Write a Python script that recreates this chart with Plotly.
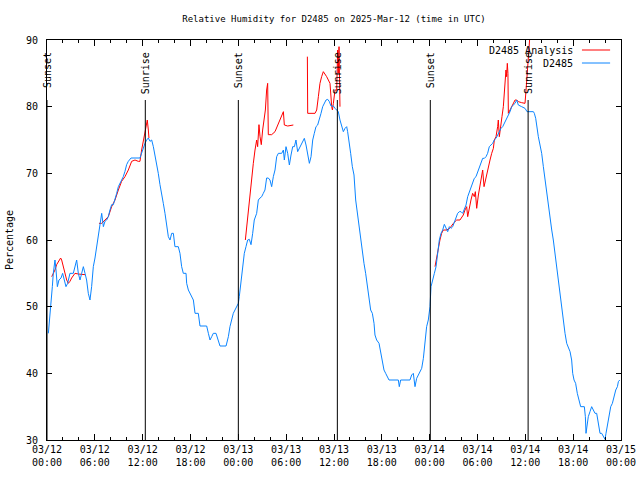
import pandas as pd
import plotly.graph_objects as go

BASE = pd.Timestamp("2025-03-12 00:00")

# D2485 observations: hours since 2025-03-12 00:00 UTC, relative humidity (%)
obs_hours = [0.17,0.38,0.5,0.67,0.79,1.0,1.13,1.3,1.5,1.76,1.96,2.17,2.38,2.59,2.88,3.3,3.51,3.72,3.93,4.14,
    4.35,4.56,4.77,4.97,5.18,5.39,5.6,5.81,6.02,6.23,6.44,6.65,6.86,7.07,7.27,7.48,7.69,7.9,8.11,8.32,
    8.53,8.74,8.95,9.36,9.57,9.78,9.99,10.2,10.54,11.66,11.87,12.08,12.29,12.5,12.71,12.92,13.13,13.34,13.55,13.75,
    13.96,14.17,14.38,14.59,14.8,15.01,15.22,15.43,15.64,15.85,16.05,16.47,16.68,16.89,17.1,17.44,17.52,17.73,17.94,18.36,
    18.57,18.98,19.19,20.03,20.24,20.45,20.66,20.86,21.2,21.49,21.7,22.46,22.75,22.95,23.16,23.37,23.58,23.79,24.0,24.12,
    24.33,24.54,24.75,24.96,25.17,25.38,25.59,25.8,26.0,26.3,26.51,26.72,26.93,27.13,27.34,27.55,27.76,27.97,28.18,28.39,
    28.6,28.81,29.02,29.44,29.65,29.77,29.98,30.19,30.4,30.61,30.82,31.03,31.23,31.44,31.65,31.86,32.15,32.28,32.49,32.7,
    32.91,33.12,33.33,33.53,33.74,33.95,34.16,34.37,34.58,34.79,35.0,35.21,35.42,35.62,35.92,36.13,36.34,36.54,36.75,36.96,
    37.17,37.38,37.59,37.71,37.88,38.09,38.3,38.51,38.72,38.93,39.14,39.34,39.55,39.76,39.97,40.18,40.39,40.6,40.81,41.02,
    41.14,41.35,41.65,41.86,42.06,42.27,42.48,42.69,42.9,43.4,44.07,44.19,44.36,45.53,45.74,45.95,46.16,46.37,46.58,46.79,
    47.0,47.21,47.41,47.62,47.83,48.04,48.17,48.38,48.59,48.8,49.0,49.21,49.42,49.63,49.84,50.05,50.26,50.47,50.68,50.89,
    51.09,51.3,51.51,51.72,51.93,52.14,52.35,52.56,52.77,52.98,53.18,53.39,53.6,53.81,54.02,54.23,54.44,54.65,54.86,55.07,
    55.27,55.48,55.69,55.9,56.11,56.32,56.53,56.74,56.95,57.16,57.36,57.57,57.82,58.08,58.29,58.5,58.71,58.92,59.12,59.54,
    59.96,60.09,60.21,61.01,61.13,61.3,61.42,61.63,61.84,62.05,62.26,62.47,62.68,62.89,63.1,63.31,63.51,63.72,63.93,64.14,
    64.35,64.56,64.77,64.98,65.19,65.4,65.61,65.81,65.94,66.11,66.31,66.52,66.73,66.94,67.4,67.53,67.61,67.74,67.9,68.11,
    68.32,68.53,68.74,68.95,69.16,69.37,69.58,69.79,69.99,70.12,70.29,70.5,70.71,70.92,71.13,71.34,71.55,71.67,71.84]
obs_values = [46,48.5,50,53,55,57,55.5,53,54,54.3,55,54,53,53.5,55,55,56,57,55,54,
    55,56,55,54,52,51,53,56,57.3,59,61,62,64,62,62.8,63,63.5,64.5,65.3,65.3,
    66,67,68,69,69.5,70.3,71.3,71.8,72.3,72.3,73,74,74.5,75,75.3,74.8,75,74,72.8,71.5,
    70,68.3,66.5,65.5,64,62,60.5,60,61,61,59,59,58,56,55,55,53.5,52.5,52,51,
    49,49,47.1,47.1,46,45,45.5,46,46,45,44.1,44.1,45.5,47,48,49,49.5,50,50.5,51.5,
    54,56.5,58,59,60,60.1,59.3,61,63,64,66,66.3,66.5,67,67.5,69.3,69.3,69,68,69.5,
    70.5,72.5,73,73,73.5,72,74,73,71.25,72.75,74,74,75,73.25,73.75,74.25,75,75.25,74.25,73,
    71.5,72.5,75,76,77,77.25,78,79,80,80.5,81,81.1,80.75,80.1,80.1,79.75,79.5,79.25,78,77,
    76.25,76.75,77,76.25,75,73,71,69.75,66,64,61.5,60,58,56.5,55,53,51.5,49.5,49,47.5,
    45.75,45,44.5,43.25,42,40.5,40,39.5,39,39,39,38,39,39,39.75,40,38,39.25,39.75,40.25,
    40.75,42.25,45,47,48,50,53,54.25,55,56,58,60,61,61.5,62.35,61.75,61.25,62,61.75,62,
    62.75,63.5,64,64.25,64.25,64,64.75,65.25,66.5,67.25,68,68.75,69.25,69.5,70.25,70.75,71.5,72.25,72.25,72.5,
    73,74,74.25,74.5,75,75.25,75.75,76.25,76.75,77,77.5,78,78.5,79.25,80,80.25,80.5,81,80.25,80,
    79.75,79.5,79.25,79.25,79,78.25,77,75.5,74.25,73,71,69,67,65,63,61.5,60,58,56,53.5,
    51.5,49.5,47.5,46,44.5,43.75,43.25,42,40,39,38.5,37,36,35,35,33.5,31,32.5,33.5,34.25,
    35,34.5,34,34,32.5,31,31,30.5,30.1,31,32,33.5,35,35.5,36.5,37.5,38,38.75,39]

# D2485 Analysis (None = gap)
ana_hours = [0.59,0.79,1.0,1.21,1.42,1.71,1.84,2.05,2.26,2.47,2.68,2.88,3.09,3.3,3.51,3.93,4.35,4.77,None,
    6.52,6.86,7.27,7.69,8.11,8.53,8.95,9.36,9.78,10.2,10.62,11.04,11.45,11.66,11.87,12.08,12.29,12.42,12.58,12.71,12.79,None,
    24.88,25.05,25.25,25.46,25.67,25.88,26.09,26.3,26.42,26.59,26.72,26.88,27.05,27.22,27.39,27.55,27.68,27.76,28.18,28.6,
    29.02,29.44,29.65,29.77,30.19,30.9,None,
    32.66,32.7,33.62,33.83,34.04,34.24,34.45,34.66,35.08,35.5,35.71,35.8,35.92,36.13,36.34,36.46,36.54,36.63,36.75,None,
    48.67,48.88,49.09,49.29,49.5,49.71,50.13,50.55,50.97,51.39,51.8,52.01,52.22,52.43,52.64,52.77,52.98,53.18,53.39,53.6,
    53.73,53.9,54.11,54.32,54.53,54.65,54.82,54.99,55.15,55.36,55.57,55.78,55.99,56.11,56.32,56.53,56.61,56.74,56.91,57.07,
    57.24,57.45,57.57,57.65,57.74,57.82,57.87,58.08,58.29,58.5,58.71,58.92,59.12,59.54,59.96,60.09,60.25,60.38,60.5,60.59]
ana_values = [54.5,55,55.5,56.3,56.8,57.3,57,56,55,54,53.5,53.8,54.3,54.6,55,54.9,54.8,54.8,None,
    62.5,62.5,63,63.5,65,66,67.5,68.8,69.5,70.5,71.8,72,71.8,71.8,73.5,75,76,77.5,78,76.5,75.3,None,
    60,62,64.5,67.5,70,71.5,73.5,75,74,77.3,75.5,74.3,76.5,78,79.5,82.5,83.5,75.8,75.8,76.25,
    77.5,78.5,79.25,77.25,77.1,77.25,None,
    87.5,79,79,79.5,81.5,83.5,84.5,85.25,84.5,83.5,80,79.5,80.5,82.5,82.5,88.5,85,89,80,None,
    56,57.5,58.5,60,61,61.5,61.5,61.8,62.5,63,63,63.3,63.75,64.5,65,63.5,65,66,67,66.5,
    67.25,64.75,66.75,68.5,69.5,70.5,68,69,69.5,71,72,73,73.75,75,75.5,77,78,75.5,77.5,78.5,
    80,83,85.5,84.5,86.5,85,79,79.5,80,80.5,81,81,80.75,80.6,80.5,82.5,85,87,89.5,91]

# Sunrise / sunset markers (hours since 2025-03-12 00:00 UTC)
sun_labels = ["Sunset", "Sunrise", "Sunset", "Sunrise", "Sunset", "Sunrise"]
sun_hours = [0.0, 12.33, 24.0, 36.42, 48.08, 60.35]

# x tick positions (hours) and labels
tick_hours = [0, 6, 12, 18, 24, 30, 36, 42, 48, 54, 60, 66, 72]
tick_labels = ["03/12<br>00:00", "03/12<br>06:00", "03/12<br>12:00", "03/12<br>18:00",
               "03/13<br>00:00", "03/13<br>06:00", "03/13<br>12:00", "03/13<br>18:00",
               "03/14<br>00:00", "03/14<br>06:00", "03/14<br>12:00", "03/14<br>18:00",
               "03/15<br>00:00"]


def to_time(h):
    return None if h is None else BASE + pd.Timedelta(hours=h)


FONT = "DejaVu Sans Mono"
RED = "#ff0000"
BLUE = "#0a84ff"

fig = go.Figure()
fig.add_trace(go.Scatter(x=[to_time(h) for h in ana_hours], y=ana_values, mode="lines",
                         line=dict(color=RED, width=1), name="D2485 Analysis",
                         connectgaps=False, showlegend=False))
fig.add_trace(go.Scatter(x=[to_time(h) for h in obs_hours], y=obs_values, mode="lines",
                         line=dict(color=BLUE, width=1), name="D2485", showlegend=False))

shapes = []
annotations = []
for lab, h in zip(sun_labels, sun_hours):
    t = to_time(h)
    shapes.append(dict(type="line", xref="x", yref="paper", x0=t, x1=t, y0=0, y1=0.85,
                       line=dict(color="black", width=1)))
    annotations.append(dict(text=lab, x=t, xref="x", y=0.975, yref="paper", textangle=-90,
                            xanchor="center", yanchor="top", showarrow=False,
                            font=dict(family=FONT, size=10, color="black")))

# manual gnuplot-style legend (text right, sample line after)
leg = [("D2485 Analysis", RED, 0.975), ("D2485", BLUE, 0.9425)]
for name, col, yy in leg:
    annotations.append(dict(text=name, x=0.92, xref="paper", y=yy, yref="paper",
                            xanchor="right", yanchor="middle", showarrow=False,
                            font=dict(family=FONT, size=10, color="black")))
    shapes.append(dict(type="line", xref="paper", yref="paper", x0=0.932, x1=0.981,
                       y0=yy, y1=yy, line=dict(color=col, width=1)))

annotations.append(dict(text="Percentage", x=-0.066, xref="paper", y=0.5, yref="paper",
                        textangle=-90, xanchor="center", yanchor="middle", showarrow=False,
                        font=dict(family=FONT, size=10, color="black")))

fig.update_layout(
    width=640, height=480,
    margin=dict(l=47, r=19, t=40, b=40, autoexpand=False),
    paper_bgcolor="white", plot_bgcolor="white",
    title=dict(text="Relative Humidity for D2485 on 2025-Mar-12 (time in UTC)",
               x=(47 + 574 / 2) / 640, xanchor="center", y=1 - 19 / 480, yanchor="middle",
               font=dict(family=FONT, size=9, color="black")),
    shapes=shapes, annotations=annotations,
    font=dict(family=FONT, size=10, color="black"),
)
fig.update_xaxes(
    range=[to_time(0), to_time(72)], showgrid=False, zeroline=False, automargin=False,
    showline=True, linecolor="black", linewidth=1, mirror="ticks",
    ticks="inside", ticklen=6, tickcolor="black",
    tickvals=[to_time(h) for h in tick_hours], ticktext=tick_labels,
    tickfont=dict(family=FONT, size=10, color="black"),
    minor=dict(ticks="inside", ticklen=3, tickcolor="black",
               tickvals=[to_time(h) for h in range(0, 73, 2)]),
)
fig.update_yaxes(
    range=[30, 90], dtick=10, showgrid=False, zeroline=False, automargin=False,
    showline=True, linecolor="black", linewidth=1, mirror="ticks",
    ticks="inside", ticklen=5, tickcolor="black", ticklabelstandoff=6,
    tickfont=dict(family=FONT, size=10, color="black"),
)

fig.write_html("out.html", config={"displayModeBar": False},
               post_script="document.body.style.margin='0px';")
